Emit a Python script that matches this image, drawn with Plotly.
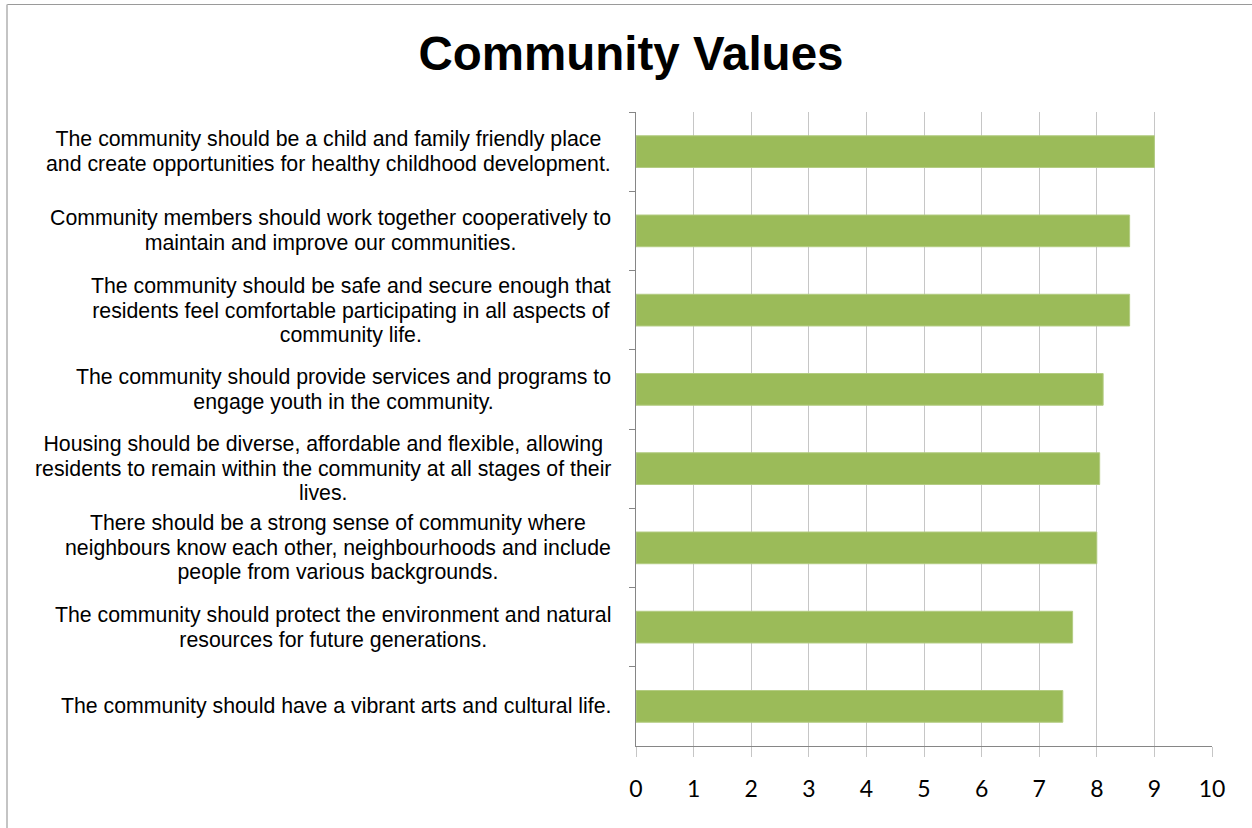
import plotly.graph_objects as go

categories = [
    "The community should be a child and family friendly place<br>and create opportunities for healthy childhood development.",
    "Community members should work together cooperatively to<br>maintain and improve our communities.",
    "The community should be safe and secure enough that<br>residents feel comfortable participating in all aspects of<br>community life.",
    "The community should provide services and programs to<br>engage youth in the community.",
    "Housing should be diverse, affordable and flexible, allowing<br>residents to remain within the community at all stages of their<br>lives.",
    "There should be a strong sense of community where<br>neighbours know each other, neighbourhoods and include<br>people from various backgrounds.",
    "The community should protect the environment and natural<br>resources for future generations.",
    "The community should have a vibrant arts and cultural life.",
]
values = [9.0, 8.57, 8.57, 8.11, 8.05, 8.0, 7.58, 7.41]
x_ticks = list(range(0, 11))
title_text = "Community Values"

W, H = 1252, 828
ml, mr, mt, mb = 636, 40, 112, 82
pw = W - ml - mr
ph = H - mt - mb

fig = go.Figure()
fig.add_trace(go.Bar(
    x=values,
    y=categories,
    orientation="h",
    width=0.4,
    marker=dict(color="#9bbb59", line=dict(color="#b3cc82", width=1)),
    hoverinfo="x",
))

annotations = []
for c in categories:
    # line spacing follows the annotation font size (19 -> ~24.7px);
    # the glyphs themselves are drawn at 21.3px via the span style
    lines = c.split("<br>")
    styled = "<br>".join(f'<span style="font-size:21.3px">{ln}</span>' for ln in lines)
    annotations.append(dict(
        text=styled, xref="paper", yref="y", x=(613 - ml) / pw, y=c,
        xanchor="right", yanchor="middle", align="center", showarrow=False,
        font=dict(family="Liberation Sans, Arial", size=19, color="#000000"),
    ))

shapes = [
    dict(type="line", xref="paper", yref="paper",
         x0=(7 - ml) / pw, x1=(W + 5 - ml) / pw,
         y0=(H - 4.5 - mb) / ph, y1=(H - 4.5 - mb) / ph,
         line=dict(color="#9a9a9a", width=1.2)),
    dict(type="line", xref="paper", yref="paper",
         x0=(7 - ml) / pw, x1=(7 - ml) / pw,
         y0=(H - 4.5 - mb) / ph, y1=-(mb + 5) / ph,
         line=dict(color="#c4c4c4", width=2)),
]

fig.update_layout(
    width=W, height=H,
    margin=dict(l=ml, r=mr, t=mt, b=mb, pad=0),
    paper_bgcolor="white", plot_bgcolor="white",
    showlegend=False,
    bargap=0.6,
    title=dict(
        text=title_text, x=631 / W, xref="container", xanchor="center",
        y=(H - 53) / H, yref="container", yanchor="middle",
        font=dict(family="Liberation Sans, Arial", size=47.5, color="#000000", weight="bold"),
    ),
    xaxis=dict(
        range=[0, 10], tickvals=x_ticks, ticktext=[str(v) for v in x_ticks],
        showgrid=True, gridcolor="#c6c6c6", gridwidth=1,
        showline=True, linecolor="#868686", linewidth=1.3,
        ticks="outside", ticklen=10, tickcolor="#c6c6c6", tickwidth=1,
        tickfont=dict(family="Lato, Open Sans", size=23, color="#000000"),
        ticklabelstandoff=12,
        zeroline=False, fixedrange=True,
    ),
    yaxis=dict(
        categoryorder="array", categoryarray=categories, autorange="reversed",
        showticklabels=False, showgrid=False,
        showline=True, linecolor="#868686", linewidth=1.3,
        ticks="outside", ticklen=6, tickcolor="#868686", tickwidth=1,
        tickson="boundaries", zeroline=False, fixedrange=True,
    ),
    annotations=annotations,
    shapes=shapes,
)

fig.write_html("out.html")
